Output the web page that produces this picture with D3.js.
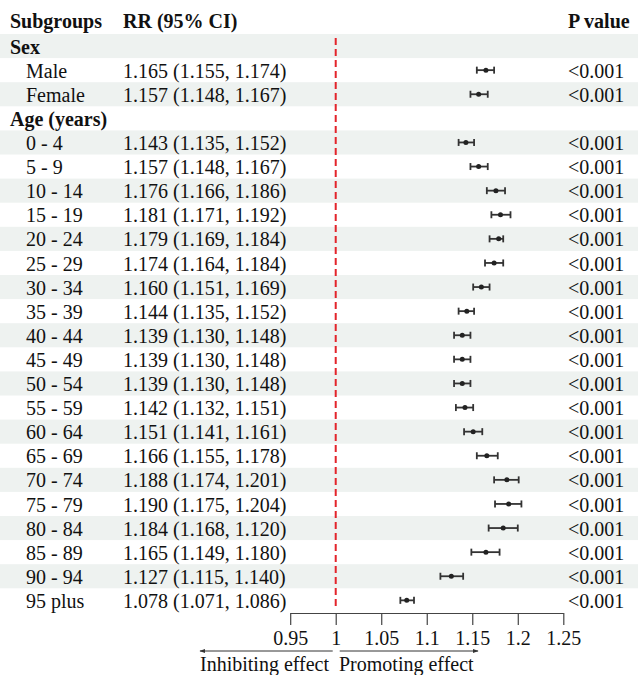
<!DOCTYPE html>
<html>
<head>
<meta charset="utf-8">
<script src="https://cdn.jsdelivr.net/npm/d3@7"></script>
<style>
  html, body { margin: 0; padding: 0; background: #fff; }
  svg { display: block; }
  text { font-family: "Liberation Serif", "Times New Roman", serif; fill: #111; }
</style>
</head>
<body>
<svg id="chart" width="638" height="675"></svg>
<script>
// Row labels (null estimate = section heading)
const rowLabels = ["Sex", "Male", "Female", "Age (years)",
  "0 - 4", "5 - 9", "10 - 14", "15 - 19", "20 - 24", "25 - 29", "30 - 34",
  "35 - 39", "40 - 44", "45 - 49", "50 - 54", "55 - 59", "60 - 64", "65 - 69",
  "70 - 74", "75 - 79", "80 - 84", "85 - 89", "90 - 94", "95 plus"];
const isHeading = [true, false, false, true,
  false, false, false, false, false, false, false, false, false, false,
  false, false, false, false, false, false, false, false, false, false];

// Relative risk and 95% CI bounds
const rr = [null, 1.165, 1.157, null,
  1.143, 1.157, 1.176, 1.181, 1.179, 1.174, 1.160, 1.144, 1.139, 1.139,
  1.139, 1.142, 1.151, 1.166, 1.188, 1.190, 1.184, 1.165, 1.127, 1.078];
const lower = [null, 1.155, 1.148, null,
  1.135, 1.148, 1.166, 1.171, 1.169, 1.164, 1.151, 1.135, 1.130, 1.130,
  1.130, 1.132, 1.141, 1.155, 1.174, 1.175, 1.168, 1.149, 1.115, 1.071];
// 80 - 84: the printed upper bound reads 1.120, the interval is plotted to 1.200
const upper = [null, 1.174, 1.167, null,
  1.152, 1.167, 1.186, 1.192, 1.184, 1.184, 1.169, 1.152, 1.148, 1.148,
  1.148, 1.151, 1.161, 1.178, 1.201, 1.204, 1.200, 1.180, 1.140, 1.086];
const ciLabels = ["", "1.165 (1.155, 1.174)", "1.157 (1.148, 1.167)", "",
  "1.143 (1.135, 1.152)", "1.157 (1.148, 1.167)", "1.176 (1.166, 1.186)",
  "1.181 (1.171, 1.192)", "1.179 (1.169, 1.184)", "1.174 (1.164, 1.184)",
  "1.160 (1.151, 1.169)", "1.144 (1.135, 1.152)", "1.139 (1.130, 1.148)",
  "1.139 (1.130, 1.148)", "1.139 (1.130, 1.148)", "1.142 (1.132, 1.151)",
  "1.151 (1.141, 1.161)", "1.166 (1.155, 1.178)", "1.188 (1.174, 1.201)",
  "1.190 (1.175, 1.204)", "1.184 (1.168, 1.120)", "1.165 (1.149, 1.180)",
  "1.127 (1.115, 1.140)", "1.078 (1.071, 1.086)"];
const pLabels = rowLabels.map((d, i) => isHeading[i] ? "" : "<0.001");

const tickValues = [0.95, 1, 1.05, 1.1, 1.15, 1.2, 1.25];
const tickLabels = ["0.95", "1", "1.05", "1.1", "1.15", "1.2", "1.25"];
const headers = ["Subgroups", "RR (95% CI)", "P value"];

const W = 638, H = 675;
const FS = 20;
const svg = d3.select("#chart");

const rowTop = 34, rowH = 24.1;
const y = d3.scaleBand()
  .domain(d3.range(rowLabels.length))
  .range([rowTop, rowTop + rowH * rowLabels.length])
  .paddingInner(0).paddingOuter(0);

const x = d3.scaleLinear().domain([0.95, 1.25]).range([290.2, 563.3]);

// zebra row bands
svg.append("g").selectAll("rect")
  .data(d3.range(rowLabels.length).filter(i => i % 2 === 0))
  .join("rect")
  .attr("x", 0).attr("width", W)
  .attr("y", i => y(i)).attr("height", y.bandwidth())
  .attr("fill", "#eef2f0");

// column headers
const hdr = svg.append("g").attr("font-weight", "bold").attr("font-size", FS);
hdr.append("text").attr("x", 10).attr("y", 27.5).text(headers[0]);
hdr.append("text").attr("x", 123).attr("y", 27.5).text(headers[1]);
hdr.append("text").attr("x", 568).attr("y", 27.5).text(headers[2]);

// row text
const rows = svg.append("g").attr("font-size", FS);
const base = i => y(i) + y.bandwidth() / 2 + 7.6;
rows.selectAll("text.lab")
  .data(rowLabels)
  .join("text").attr("class", "lab")
  .attr("x", (d, i) => isHeading[i] ? 10 : 26)
  .attr("y", (d, i) => base(i))
  .attr("font-weight", (d, i) => isHeading[i] ? "bold" : "normal")
  .text(d => d);
rows.selectAll("text.ci")
  .data(ciLabels)
  .join("text").attr("class", "ci")
  .attr("x", 123).attr("y", (d, i) => base(i))
  .text(d => d);
rows.selectAll("text.p")
  .data(pLabels)
  .join("text").attr("class", "p")
  .attr("x", 568).attr("y", (d, i) => base(i))
  .text(d => d);

// reference line at RR = 1
svg.append("line")
  .attr("x1", x(1)).attr("x2", x(1))
  .attr("y1", 38).attr("y2", 608)
  .attr("stroke", "#e3242b").attr("stroke-width", 2)
  .attr("stroke-dasharray", "7,4");

// confidence intervals
const est = d3.range(rowLabels.length).filter(i => rr[i] !== null);
const ci = svg.append("g").attr("stroke", "#333").attr("stroke-width", 1.8);
const cy = i => y(i) + y.bandwidth() / 2;
ci.selectAll("line.bar").data(est).join("line").attr("class", "bar")
  .attr("x1", i => x(lower[i])).attr("x2", i => x(upper[i]))
  .attr("y1", cy).attr("y2", cy);
ci.selectAll("line.capL").data(est).join("line").attr("class", "capL")
  .attr("x1", i => x(lower[i])).attr("x2", i => x(lower[i]))
  .attr("y1", i => cy(i) - 3.5).attr("y2", i => cy(i) + 3.5);
ci.selectAll("line.capR").data(est).join("line").attr("class", "capR")
  .attr("x1", i => x(upper[i])).attr("x2", i => x(upper[i]))
  .attr("y1", i => cy(i) - 3.5).attr("y2", i => cy(i) + 3.5);
svg.append("g").selectAll("circle").data(est).join("circle")
  .attr("cx", i => x(rr[i])).attr("cy", cy).attr("r", 2.5)
  .attr("fill", "#222");

// x axis
const axis = d3.axisBottom(x)
  .tickValues(tickValues)
  .tickFormat((d, i) => tickLabels[i])
  .tickSize(12).tickSizeOuter(0).tickPadding(6);
const gx = svg.append("g").attr("transform", "translate(0,613)").call(axis);
gx.select(".domain").attr("stroke", "#444").attr("stroke-width", 1.2);
gx.selectAll(".tick line").attr("stroke", "#444").attr("stroke-width", 1.2);
gx.selectAll(".tick text")
  .attr("font-family", "Liberation Serif, Times New Roman, serif")
  .attr("font-size", FS).attr("fill", "#111");

// effect direction arrows
const defs = svg.append("defs");
defs.append("marker").attr("id", "ah")
  .attr("viewBox", "0 0 10 10").attr("refX", 9).attr("refY", 5)
  .attr("markerWidth", 6).attr("markerHeight", 6)
  .attr("orient", "auto-start-reverse")
  .append("path").attr("d", "M0,1.5 L10,5 L0,8.5 Z").attr("fill", "#333");
const arrowY = 651;
svg.append("line")
  .attr("x1", 200).attr("x2", x(1) - 3).attr("y1", arrowY).attr("y2", arrowY)
  .attr("stroke", "#333").attr("stroke-width", 1)
  .attr("marker-start", "url(#ah)");
svg.append("line")
  .attr("x1", x(1) + 4).attr("x2", 478).attr("y1", arrowY).attr("y2", arrowY)
  .attr("stroke", "#333").attr("stroke-width", 1)
  .attr("marker-end", "url(#ah)");
svg.append("text").attr("x", 200).attr("y", 671).attr("font-size", FS)
  .text("Inhibiting effect");
svg.append("text").attr("x", 339).attr("y", 671).attr("font-size", FS)
  .text("Promoting effect");
</script>
</body>
</html>
